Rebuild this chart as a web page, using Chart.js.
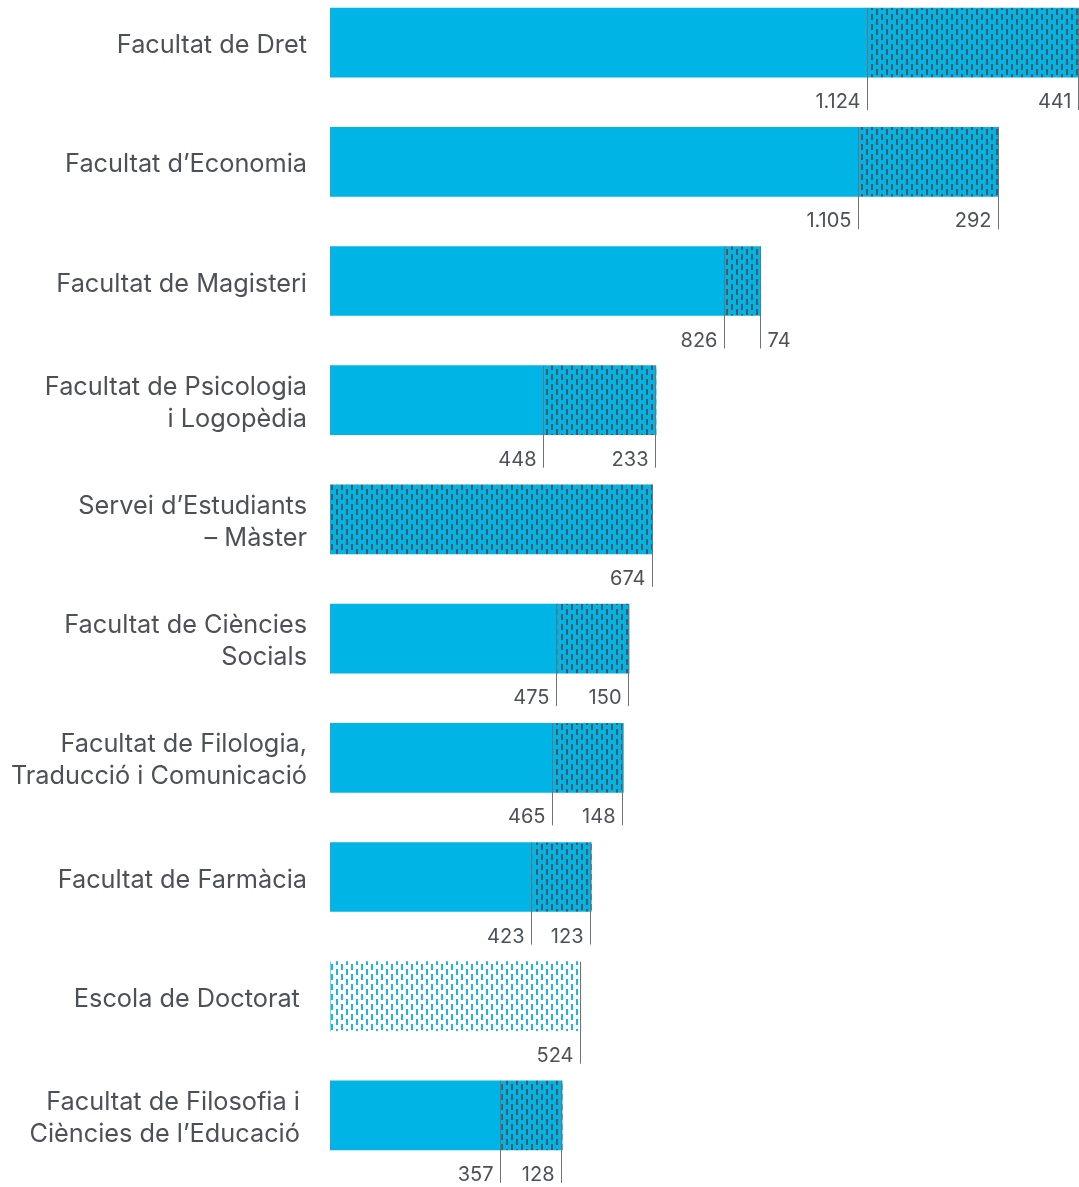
<!DOCTYPE html>
<html>
<head>
<meta charset="utf-8">
<script src="https://cdn.jsdelivr.net/npm/chart.js@4.4.1/dist/chart.umd.min.js"></script>
<style>
  html, body { margin: 0; padding: 0; background: #fff; overflow: hidden; }
  #wrap { position: absolute; left: 0; top: -17px; width: 1079px; height: 1206px; }
</style>
</head>
<body>
<div id="wrap"><canvas id="chart" width="1079" height="1206"></canvas></div>
<script>
// categories (trailing space on two labels as in the original layout)
var categories = [
    'Facultat de Dret',
    'Facultat d\u2019Economia',
    'Facultat de Magisteri',
    ['Facultat de Psicologia', 'i Logopèdia'],
    ['Servei d\u2019Estudiants', '\u2013 Màster'],
    ['Facultat de Ciències', 'Socials'],
    ['Facultat de Filologia,', 'Traducció i Comunicació'],
    'Facultat de Farmàcia',
    'Escola de Doctorat ',
    ['Facultat de Filosofia i ', 'Ciències de l\u2019Educació ']
];

// series values
var grau     = [1124, 1105, 826, 448, 0, 475, 465, 423, 0, 357];
var master   = [441, 292, 74, 233, 674, 150, 148, 123, 0, 128];
var doctorat = [0, 0, 0, 0, 0, 0, 0, 0, 524, 0];

var cyan = '#00b4e6';
var dashGrey = '#4d5862';
var textGrey = '#4c5158';
var lineGrey = '#6e7378';

function makePattern(bg, fg) {
    var c = document.createElement('canvas');
    c.width = 10;
    c.height = 10;
    var g = c.getContext('2d');
    g.fillStyle = bg;
    g.fillRect(0, 0, 10, 10);
    g.fillStyle = fg;
    g.fillRect(1, 1, 2, 6);
    g.fillRect(6, 6, 2, 4);
    g.fillRect(6, 0, 2, 2);
    return g.createPattern(c, 'repeat');
}

function fmt(v) {
    return String(v).replace(/\B(?=(\d{3})+(?!\d))/g, '.');
}

var valueLines = {
    id: 'valueLines',
    afterDatasetsDraw: function(chart) {
        var ctx = chart.ctx;
        ctx.save();
        ctx.font = '20px Inter';
        ctx.textBaseline = 'alphabetic';
        chart.data.datasets.forEach(function(ds, i) {
            var meta = chart.getDatasetMeta(i);
            meta.data.forEach(function(el, j) {
                var v = ds.data[j];
                if (!v) return;
                var p = el.getProps(['x', 'y', 'base', 'height'], true);
                var x = Math.round(p.x) - 0.5;
                var top = p.y - p.height / 2;
                var bottom = p.y + p.height / 2;
                ctx.strokeStyle = lineGrey;
                ctx.lineWidth = 1;
                ctx.beginPath();
                ctx.moveTo(x, top);
                ctx.lineTo(x, bottom + 33);
                ctx.stroke();
                var label = fmt(v);
                var w = ctx.measureText(label).width;
                ctx.fillStyle = textGrey;
                if (p.x - p.base < w + 16) {
                    ctx.textAlign = 'left';
                    ctx.fillText(label, x + 7, bottom + 31);
                } else {
                    ctx.textAlign = 'right';
                    ctx.fillText(label, x - 7, bottom + 31);
                }
            });
        });
        ctx.restore();
    }
};

var ctx = document.getElementById('chart').getContext('2d');
var chart = new Chart(ctx, {
    type: 'bar',
    data: {
        labels: categories,
        datasets: [{
            label: 'Grau',
            data: grau,
            backgroundColor: cyan
        }, {
            label: 'Màster',
            data: master,
            backgroundColor: makePattern(cyan, dashGrey)
        }, {
            label: 'Doctorat',
            data: doctorat,
            backgroundColor: makePattern('#ffffff', '#19b7e8')
        }]
    },
    options: {
        indexAxis: 'y',
        responsive: false,
        animation: false,
        barThickness: 69,
        borderWidth: 0,
        layout: { padding: { top: 0, bottom: 14, left: 0, right: 0 } },
        plugins: {
            legend: { display: false },
            tooltip: { enabled: false }
        },
        scales: {
            x: {
                stacked: true,
                display: false,
                min: 0,
                max: 1565
            },
            y: {
                stacked: true,
                grid: { display: false, drawTicks: false },
                border: { display: false },
                afterFit: function(scale) {
                    scale.width = 330;
                    scale.paddingTop = 0;
                    scale.paddingBottom = 0;
                },
                ticks: {
                    padding: 23,
                    labelOffset: 3,
                    color: textGrey,
                    font: { family: 'Inter', size: 25.3, lineHeight: 1.27 }
                }
            }
        }
    },
    plugins: [valueLines]
});
</script>
</body>
</html>
